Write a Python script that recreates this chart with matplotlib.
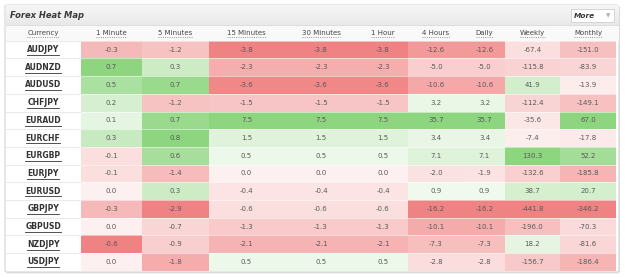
import matplotlib
matplotlib.use("Agg")
import matplotlib.pyplot as plt
import numpy as np
from matplotlib.patches import FancyBboxPatch, Rectangle

# data
pairs = ["AUDJPY", "AUDNZD", "AUDUSD", "CHFJPY", "EURAUD", "EURCHF", "EURGBP",
         "EURJPY", "EURUSD", "GBPJPY", "GBPUSD", "NZDJPY", "USDJPY"]
periods = ["1 Minute", "5 Minutes", "15 Minutes", "30 Minutes", "1 Hour",
           "4 Hours", "Daily", "Weekly", "Monthly"]

m1 = [-0.3, 0.7, 0.5, 0.2, 0.1, 0.3, -0.1, -0.1, 0.0, -0.3, 0.0, -0.6, 0.0]
m5 = [-1.2, 0.3, 0.7, -1.2, 0.7, 0.8, 0.6, -1.4, 0.3, -2.9, -0.7, -0.9, -1.8]
m15 = [-3.8, -2.3, -3.6, -1.5, 7.5, 1.5, 0.5, 0.0, -0.4, -0.6, -1.3, -2.1, 0.5]
m30 = [-3.8, -2.3, -3.6, -1.5, 7.5, 1.5, 0.5, 0.0, -0.4, -0.6, -1.3, -2.1, 0.5]
h1 = [-3.8, -2.3, -3.6, -1.5, 7.5, 1.5, 0.5, 0.0, -0.4, -0.6, -1.3, -2.1, 0.5]
h4 = [-12.6, -5.0, -10.6, 3.2, 35.7, 3.4, 7.1, -2.0, 0.9, -16.2, -10.1, -7.3, -2.8]
daily = [-12.6, -5.0, -10.6, 3.2, 35.7, 3.4, 7.1, -1.9, 0.9, -16.2, -10.1, -7.3, -2.8]
weekly = [-67.4, -115.8, 41.9, -112.4, -35.6, -7.4, 130.3, -132.6, 38.7, -441.8,
          -196.0, 18.2, -156.7]
monthly = [-151.0, -83.9, -13.9, -149.1, 67.0, -17.8, 52.2, -185.8, 20.7, -346.2,
           -70.3, -81.6, -186.4]

vals = np.array([m1, m5, m15, m30, h1, h4, daily, weekly, monthly]).T

# colour: each column scaled on its own max gain / max loss
green_hi = np.array([141, 213, 127]) / 255
green_lo = np.array([243, 250, 241]) / 255
red_hi = np.array([239, 130, 130]) / 255
red_lo = np.array([253, 240, 240]) / 255

rgb = np.zeros(vals.shape + (3,))
for j in range(vals.shape[1]):
    col = vals[:, j]
    pmax = col.max() if col.max() > 0 else 1
    nmax = -col.min() if col.min() < 0 else 1
    for i, v in enumerate(col):
        if v > 0:
            t = v / pmax
            rgb[i, j] = green_lo + t * (green_hi - green_lo)
        else:
            t = -v / nmax
            rgb[i, j] = red_lo + t * (red_hi - red_lo)

fig = plt.figure(figsize=(6.25, 2.77), dpi=100)
ax = fig.add_axes([0, 0, 1, 1])
ax.set_xlim(0, 625)
ax.set_ylim(277, 0)
ax.axis("off")

# panel with shadow
ax.add_patch(FancyBboxPatch((6, 6.5), 614, 267, boxstyle="round,pad=0,rounding_size=2",
                            fc="#e4e4e4", ec="none", zorder=0))
ax.add_patch(FancyBboxPatch((5, 5), 614, 267, boxstyle="round,pad=0,rounding_size=2",
                            fc="white", ec="#d4d4d4", lw=0.8, zorder=1))
# title bar gradient
grad = np.linspace(0.965, 0.915, 20).reshape(-1, 1)
ax.imshow(np.dstack([grad, grad, grad]), extent=(5.5, 618.5, 25, 5.5), aspect="auto",
          zorder=2)
ax.plot([5.5, 618.5], [25, 25], color="#d8d8d8", lw=0.6, zorder=3)
ax.text(10, 15.5, "Forex Heat Map", fontsize=6, fontweight="bold", style="italic",
        color="#3a3a3a", va="center", zorder=4)

# "More" button
ax.add_patch(Rectangle((571, 9), 43, 13, fc="white", ec="#cfcfcf", lw=0.6, zorder=4))
ax.text(584, 15.5, "More", fontsize=5.3, fontweight="bold", style="italic",
        color="#333333", va="center", ha="center", zorder=5)
ax.text(608, 15.5, "\u25bc", fontsize=4, color="#b0b0b0", va="center", ha="center",
        zorder=5)

# header row background
ax.add_patch(Rectangle((5.5, 25.3), 613, 15.4, fc="#f9f9f9", ec="none", zorder=2))

x_edges = np.array([81, 142, 209, 284, 358, 408, 464, 505, 560, 616])
row_h = 17.7
y0 = 40.7
y_edges = y0 + np.arange(len(pairs) + 1) * row_h
x_mid = (x_edges[:-1] + x_edges[1:]) / 2
y_mid = (y_edges[:-1] + y_edges[1:]) / 2

ax.pcolormesh(x_edges, y_edges, rgb, edgecolors="none", zorder=3)

# row separators
for y in y_edges[:-1]:
    ax.plot([6, 81], [y, y], color="#e6e6e6", lw=0.6, zorder=3)
    ax.plot([81, 616], [y, y], color="white", alpha=0.6, lw=0.6, zorder=3)

underline = []
hdr = ax.text(43, 33, "Currency", fontsize=5, color="#444444", ha="center",
              va="center", zorder=5)
underline.append((hdr, ":", "#777777"))
for x, p in zip(x_mid, periods):
    t = ax.text(x, 33, p, fontsize=5, color="#444444", ha="center", va="center",
                zorder=5)
    underline.append((t, ":", "#777777"))

for y, name in zip(y_mid, pairs):
    t = ax.text(43, y, name, fontsize=5.5, fontweight="bold", color="#333333",
                ha="center", va="center", zorder=5)
    underline.append((t, "-", "#333333"))

for i in range(vals.shape[0]):
    for j in range(vals.shape[1]):
        ax.text(x_mid[j], y_mid[i], f"{vals[i, j]:.1f}", fontsize=5, color="#5a5a5a",
                ha="center", va="center", zorder=5)

# underline labels using their rendered extents
fig.canvas.draw()
r = fig.canvas.get_renderer()
inv = ax.transData.inverted()
for t, ls, c in underline:
    bb = t.get_window_extent(r)
    (xa, ya), (xb, yb) = inv.transform([[bb.x0, bb.y0], [bb.x1, bb.y1]])
    ax.plot([xa, xb], [ya + 0.8, ya + 0.8], ls=ls, color=c, lw=0.6, zorder=5)

fig.savefig("out.png", dpi=100)
